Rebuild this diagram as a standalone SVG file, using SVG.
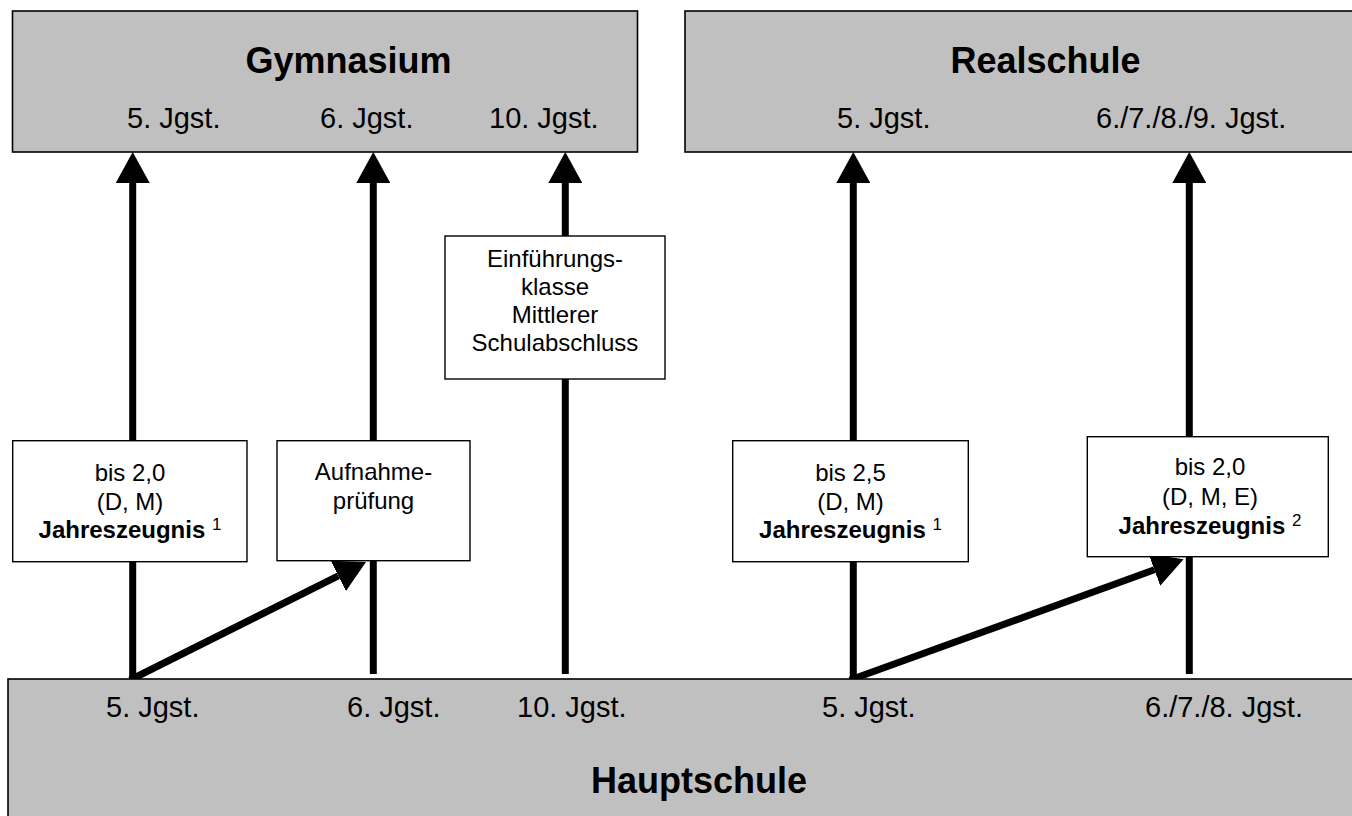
<svg xmlns="http://www.w3.org/2000/svg" width="1352" height="816" viewBox="0 0 1352 816">
<defs>
<style>
text{font-family:"Liberation Sans",Arial,Helvetica,sans-serif;fill:#000}
.title{font-size:36px;font-weight:bold;text-anchor:middle}
.lbl{font-size:29px}
.bt{font-size:24px;text-anchor:middle}
.b{font-weight:bold}
.sup{font-size:17px}
.school{fill:#c0c0c0;stroke:#000;stroke-width:1.6}
.cond{fill:#fff;stroke:#000;stroke-width:1.4}
.arr{stroke:#000;stroke-width:7;fill:none}
</style>
<marker id="ah" markerUnits="userSpaceOnUse" viewBox="0 -17 31 34" refX="0" refY="0" markerWidth="31" markerHeight="34" orient="auto">
<path d="M0,-17 L31,0 L0,17 Z" fill="#000"/>
</marker>
</defs>
<rect width="1352" height="816" fill="#fff"/>
<g id="connectors">
<line class="arr" x1="132.7" y1="679" x2="132.7" y2="183" marker-end="url(#ah)"/>
<line class="arr" x1="373.3" y1="674" x2="373.3" y2="183" marker-end="url(#ah)"/>
<line class="arr" x1="565.3" y1="674" x2="565.3" y2="183" marker-end="url(#ah)"/>
<line class="arr" x1="853.3" y1="679" x2="853.3" y2="183" marker-end="url(#ah)"/>
<line class="arr" x1="1189.3" y1="674" x2="1189.3" y2="183" marker-end="url(#ah)"/>
<line class="arr" x1="130" y1="680" x2="338.3" y2="575.9" marker-end="url(#ah)"/>
<line class="arr" x1="850" y1="680" x2="1154.4" y2="569.8" marker-end="url(#ah)"/>
</g>
<g id="gymnasium">
<rect class="school" x="12.5" y="11" width="625" height="141"/>
<text class="title" x="348.5" y="73">Gymnasium</text>
<text class="lbl" x="127" y="128">5. Jgst.</text>
<text class="lbl" x="320" y="128">6. Jgst.</text>
<text class="lbl" x="489" y="128">10. Jgst.</text>
</g>
<g id="realschule">
<rect class="school" x="685" y="11" width="690" height="141"/>
<text class="title" x="1045.5" y="73">Realschule</text>
<text class="lbl" x="837" y="128">5. Jgst.</text>
<text class="lbl" x="1096" y="128">6./7./8./9. Jgst.</text>
</g>
<g id="hauptschule">
<rect class="school" x="8" y="679" width="1370" height="160"/>
<text class="lbl" x="106" y="717">5. Jgst.</text>
<text class="lbl" x="347" y="717">6. Jgst.</text>
<text class="lbl" x="517" y="717">10. Jgst.</text>
<text class="lbl" x="822" y="717">5. Jgst.</text>
<text class="lbl" x="1145" y="717">6./7./8. Jgst.</text>
<text class="title" x="699" y="793">Hauptschule</text>
</g>
<g id="einfuehrung">
<rect class="cond" x="445" y="236" width="220" height="143"/>
<text class="bt" x="555" y="267">Einführungs-</text>
<text class="bt" x="555" y="295">klasse</text>
<text class="bt" x="555" y="323">Mittlerer</text>
<text class="bt" x="555" y="351">Schulabschluss</text>
</g>
<g id="gym-5-bedingung">
<rect class="cond" x="12.7" y="440.7" width="234.3" height="121"/>
<text class="bt" x="130" y="481">bis 2,0</text>
<text class="bt" x="130" y="509.5">(D, M)</text>
<text class="bt" x="130" y="538"><tspan class="b">Jahreszeugnis</tspan> <tspan class="sup" dy="-8">1</tspan></text>
</g>
<g id="gym-6-aufnahme">
<rect class="cond" x="277" y="440.7" width="193" height="120"/>
<text class="bt" x="373.5" y="480">Aufnahme-</text>
<text class="bt" x="373.5" y="508.5">prüfung</text>
</g>
<g id="real-5-bedingung">
<rect class="cond" x="732.7" y="440.7" width="235.6" height="121"/>
<text class="bt" x="850.5" y="481">bis 2,5</text>
<text class="bt" x="850.5" y="509.5">(D, M)</text>
<text class="bt" x="850.5" y="538"><tspan class="b">Jahreszeugnis</tspan> <tspan class="sup" dy="-8">1</tspan></text>
</g>
<g id="real-6-bedingung">
<rect class="cond" x="1087.3" y="436.7" width="241" height="120"/>
<text class="bt" x="1210" y="475">bis 2,0</text>
<text class="bt" x="1210" y="504.5">(D, M, E)</text>
<text class="bt" x="1210" y="534"><tspan class="b">Jahreszeugnis</tspan> <tspan class="sup" dy="-8">2</tspan></text>
</g>
</svg>
